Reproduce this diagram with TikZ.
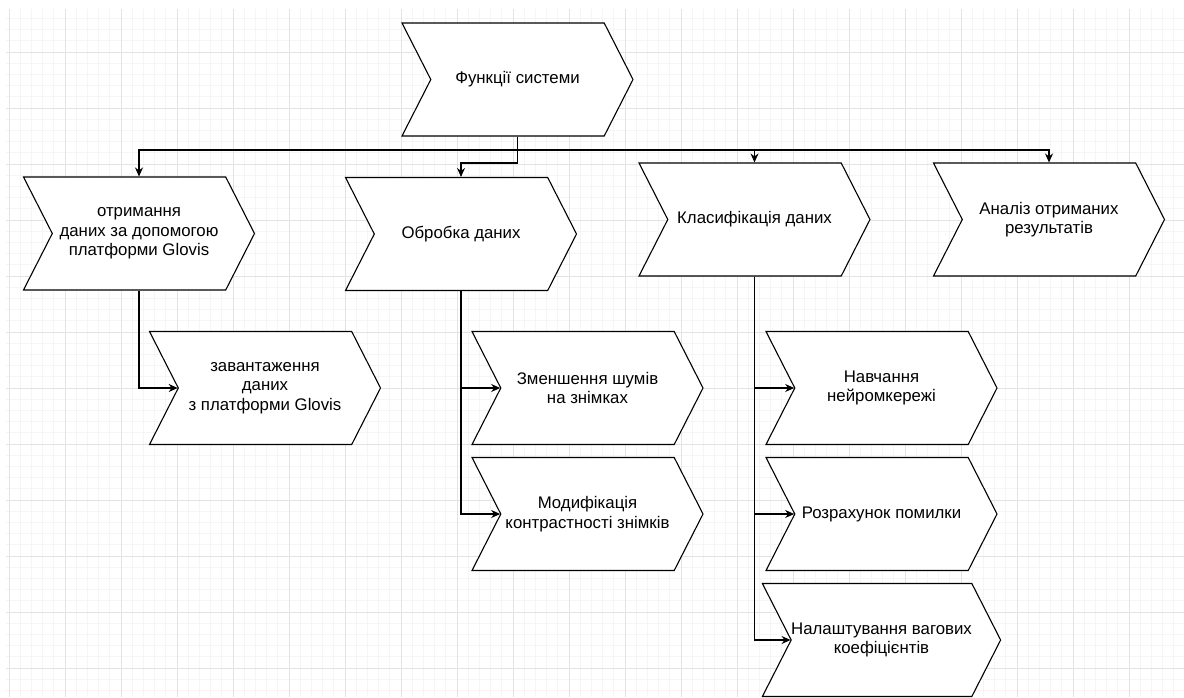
\documentclass[tikz,border=0pt]{standalone}
\usepackage{fontspec}
\setmainfont{Liberation Sans}
\usetikzlibrary{arrows.meta,shapes.symbols}

\begin{document}
\begin{tikzpicture}[x=1pt,y=-1pt,
    stepbox/.style={signal, signal to=east, signal from=west, signal pointer angle=126,
        draw, line width=1.1pt, fill=white, minimum width=231pt, minimum height=113pt,
        inner sep=0pt, align=center, font=\fontsize{16.8}{19.5}\selectfont},
    link/.style={line width=1.1pt, -{Stealth[length=9pt,width=8pt]}}]
    \useasboundingbox (0,0) rectangle (1184,697);
    \begin{scope}
        \clip (6,9) rectangle (1184,697);
        \foreach \gx in {9,20.2,...,1190} \draw[gray!8, line width=0.8pt] (\gx,0) -- (\gx,697);
        \foreach \gy in {18.4,29.6,...,700} \draw[gray!8, line width=0.8pt] (0,\gy) -- (1184,\gy);
        \foreach \gx in {9,65,...,1190} \draw[gray!22, line width=0.9pt] (\gx,0) -- (\gx,697);
        \foreach \gy in {52,108,...,700} \draw[gray!22, line width=0.9pt] (0,\gy) -- (1184,\gy);
    \end{scope}
    \node[stepbox] (fn) at (517.5,79.5) {Функції системи};
    \node[stepbox] (get) at (139,233.5) {отримання\\даних за допомогою\\платформи Glovis};
    \node[stepbox] (proc) at (461,234) {Обробка даних};
    \node[stepbox] (cls) at (754.5,219.5) {Класифікація даних};
    \node[stepbox] (res) at (1049,219.5) {Аналіз отриманих\\результатів};
    \node[stepbox] (load) at (265,388) {завантаження\\даних\\з платформи Glovis};
    \node[stepbox] (noise) at (587.5,388) {Зменшення шумів\\на знімках};
    \node[stepbox] (contr) at (587.5,514) {Модифікація\\контрастності знімків};
    \node[stepbox] (train) at (881.5,388) {Навчання\\нейромкережі};
    \node[stepbox] (err) at (881.5,514) {Розрахунок помилки};
    \node[stepbox] (tune) at (881.5,640) {Налаштування вагових\\коефіцієнтів};
    \coordinate (bus) at (517.5,150);
    \coordinate (bus2) at (517.5,163);
    \draw[link] (fn.south) -- (bus) -| (get.north);
    \draw[link] (fn.south) -- (bus2) -| (proc.north);
    \draw[link] (bus) -| (cls.north);
    \draw[link] (bus) -| (res.north);
    \draw[link] (get.south) |- (load.west);
    \draw[link] (proc.south) |- (noise.west);
    \draw[link] (proc.south) |- (contr.west);
    \draw[link] (cls.south) |- (train.west);
    \draw[link] (cls.south) |- (err.west);
    \draw[link] (cls.south) |- (tune.west);
\end{tikzpicture}
\end{document}
